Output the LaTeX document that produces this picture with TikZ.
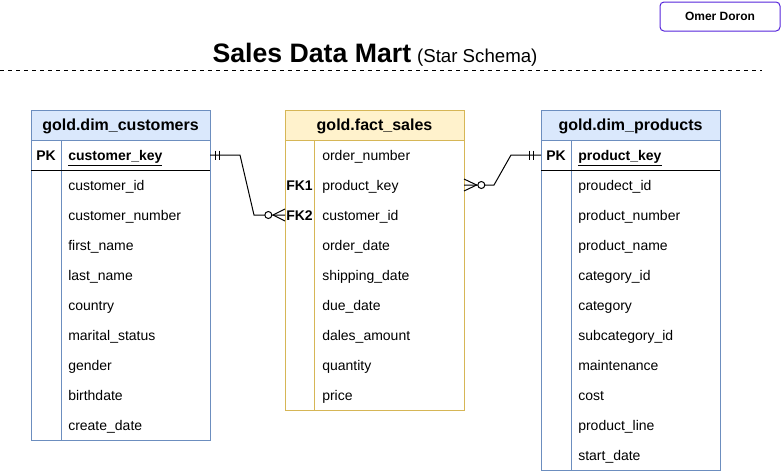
\documentclass[tikz,border=0pt]{standalone}
\usepackage{fontspec}
\setmainfont{Liberation Sans}
\definecolor{blueB}{HTML}{6C8EBF}
\definecolor{blueF}{HTML}{DAE8FC}
\definecolor{yelB}{HTML}{D6B656}
\definecolor{yelF}{HTML}{FFF2CC}
\definecolor{purp}{HTML}{5424DA}
\begin{document}
\begin{tikzpicture}[x=0.75pt,y=-0.75pt,
  rowtxt/.style={anchor=base west,inner sep=0pt,font=\fontsize{10.5}{12}\selectfont},
  keytxt/.style={anchor=base west,inner sep=0pt,font=\fontsize{10.5}{12}\selectfont\bfseries},
  hdrtxt/.style={anchor=base,inner sep=0pt,font=\fontsize{12}{14}\selectfont\bfseries},
  conn/.style={draw=black,line width=0.75pt},
  ermark/.style={draw=black,line width=0.75pt}]
\useasboundingbox (0,0) rectangle (781,472);

% author box
\draw[draw=purp,line width=0.75pt,rounded corners=3pt] (660,2) rectangle (780,31);
\node[font=\fontsize{9}{10}\selectfont\bfseries,anchor=base] (author) at (720,20) {Omer Doron};

% title
\node[anchor=base] (title) at (375,62) {{\fontsize{20}{23}\selectfont\bfseries Sales Data Mart}\, {\fontsize{14}{16}\selectfont (Star Schema)}};
\draw[line width=0.75pt,dash pattern=on 3pt off 3pt] (0,70) -- (762,70);

% ===== customers =====
\draw[draw=blueB,fill=blueF,line width=0.75pt] (31,110) rectangle (210,140);
\node[hdrtxt] (custH) at (120.5,130.5) {gold.dim\_customers};
\draw[draw=blueB,fill=white,line width=0.75pt] (31,140) rectangle (210,440);
\draw[draw=blueB,line width=0.75pt] (61,140) -- (61,440);
\draw[draw=black,line width=0.75pt] (31,170) -- (210,170);
\node[keytxt] (custPK) at (36,160) {PK};
\node[rowtxt] (custKey) at (68,160) {\underline{\textbf{customer\_key}}};
\foreach \t [count=\i] in {customer\_id,customer\_number,first\_name,last\_name,country,marital\_status,gender,birthdate,create\_date}
  \node[rowtxt] (cust\i) at (68,160+30*\i) {\t};
\coordinate (custR) at (210,155);

% ===== fact =====
\draw[draw=yelB,fill=yelF,line width=0.75pt] (285,110) rectangle (464,140);
\node[hdrtxt] (factH) at (374.5,130.5) {gold.fact\_sales};
\draw[draw=yelB,fill=white,line width=0.75pt] (285,140) rectangle (464,410);
\draw[draw=yelB,line width=0.75pt] (314,140) -- (314,410);
\foreach \t [count=\i from 0] in {order\_number,product\_key,customer\_id,order\_date,shipping\_date,due\_date,dales\_amount,quantity,price}
  \node[rowtxt] (fact\i) at (322,160+30*\i) {\t};
\node[keytxt] (fk1) at (286,190) {FK1};
\node[keytxt] (fk2) at (286,220) {FK2};
\coordinate (factL) at (285,215);
\coordinate (factR) at (464,185);

% ===== products =====
\draw[draw=blueB,fill=blueF,line width=0.75pt] (541,110) rectangle (720,140);
\node[hdrtxt] (prodH) at (630.5,130.5) {gold.dim\_products};
\draw[draw=blueB,fill=white,line width=0.75pt] (541,140) rectangle (720,470);
\draw[draw=blueB,line width=0.75pt] (571,140) -- (571,470);
\draw[draw=black,line width=0.75pt] (541,170) -- (720,170);
\node[keytxt] (prodPK) at (546,160) {PK};
\node[rowtxt] (prodKey) at (578,160) {\underline{\textbf{product\_key}}};
\foreach \t [count=\i] in {proudect\_id,product\_number,product\_name,category\_id,category,subcategory\_id,maintenance,cost,product\_line,start\_date}
  \node[rowtxt] (prod\i) at (578,160+30*\i) {\t};
\coordinate (prodL) at (541,155);

% ===== connectors =====
\draw[conn] (custR) -- ++(30,0) -- (254,215) -- (factL);
\draw[ermark] ([xshift=4]custR) ++(0,-4.5) -- ++(0,9);
\draw[ermark] ([xshift=7]custR) ++(0,-4.5) -- ++(0,9);
\draw[ermark,fill=white] ([xshift=-12.5]factL) circle (3.5);
\draw[ermark] ([xshift=-9]factL) -- ([yshift=-4.5]factL);
\draw[ermark] ([xshift=-9]factL) -- ([yshift=4.5]factL);

\draw[conn] (factR) -- ++(30,0) -- (511,155) -- (prodL);
\draw[ermark] ([xshift=-9]prodL) ++(0,-4.5) -- ++(0,9);
\draw[ermark] ([xshift=-5.5]prodL) ++(0,-4.5) -- ++(0,9);
\draw[ermark,fill=white] ([xshift=13]factR) circle (3.5);
\draw[ermark] ([xshift=9.5]factR) -- ([yshift=-4.5]factR);
\draw[ermark] ([xshift=9.5]factR) -- ([yshift=4.5]factR);
\end{tikzpicture}
\end{document}
